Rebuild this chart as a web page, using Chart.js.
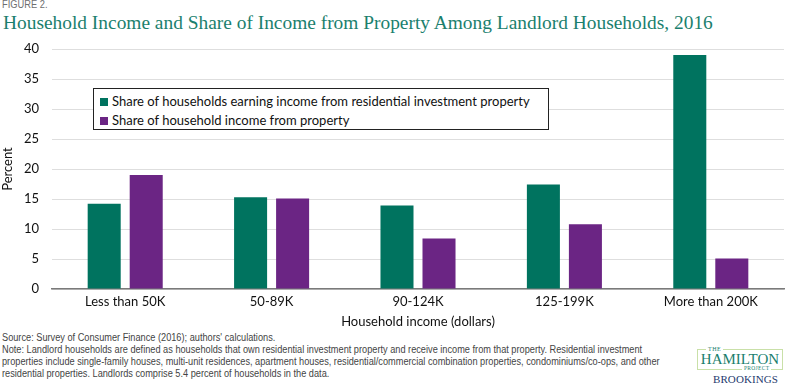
<!DOCTYPE html>
<html>
<head>
<meta charset="utf-8">
<script src="https://cdn.jsdelivr.net/npm/chart.js@4.4.1/dist/chart.umd.min.js"></script>
<style>
  html, body { margin: 0; padding: 0; background: #fff; }
  body { width: 800px; height: 388px; position: relative; overflow: hidden; font-family: Lato, "Liberation Sans", sans-serif; }
  #fig { position: absolute; left: 2px; top: -1px; font-family: "Liberation Sans", sans-serif; font-size: 10px; color: #6d6e70; transform: scaleX(0.93); transform-origin: left top; }
  #title { position: absolute; left: 3px; top: 12px; font-family: "Liberation Serif", serif; font-size: 19.4px; line-height: 22px; color: #1b7f6e; white-space: nowrap; }
  #chartBox { position: absolute; left: 0; top: 0; width: 800px; height: 330px; }
  #legend { position: absolute; left: 93px; top: 88px; width: 454px; height: 40px; border: 1px solid #222; background: #fff; font-size: 13px; color: #111; }
  #legend .item { position: absolute; left: 6px; white-space: nowrap; }
  #legend .sw { display: inline-block; width: 8px; height: 8px; margin-right: 4px; vertical-align: 0px; }
  #notes { position: absolute; left: 2px; top: 332px; font-family: "Liberation Sans", sans-serif; font-size: 10px; line-height: 12px; color: #444; white-space: nowrap; transform: scaleX(0.92); transform-origin: left top; }
  #logo { position: absolute; left: 697px; top: 349px; width: 84px; height: 19px; border: 1px solid #c9e0a8; }
  #logo .the { position: absolute; left: 8px; top: -4px; background: #fff; padding: 0 2px; font-family: "Liberation Serif", serif; font-size: 6px; line-height: 7px; color: #1b7f6e; letter-spacing: 0.5px; }
  #logo .ham { position: absolute; left: 0; width: 84px; top: 2px; text-align: center; font-family: "Liberation Serif", serif; font-size: 15px; line-height: 15px; color: #1b7f6e; }
  #logo .proj { position: absolute; left: 44px; top: 15px; background: #fff; padding: 0 2px; font-family: "Liberation Serif", serif; font-size: 5.5px; line-height: 7px; color: #1b7f6e; letter-spacing: 0.3px; }
  #brook { position: absolute; left: 713px; top: 373px; font-family: "Liberation Serif", serif; font-size: 11px; letter-spacing: 0.1px; color: #1f3a6e; }
</style>
</head>
<body>
<div id="fig">FIGURE 2.</div>
<div id="title">Household Income and Share of Income from Property Among Landlord Households, 2016</div>
<div id="chartBox"><canvas id="incomeChart" width="800" height="330"></canvas></div>
<div id="legend"></div>
<div id="notes">
Source: Survey of Consumer Finance (2016); authors' calculations.<br>
Note: Landlord households are defined as households that own residential investment property and receive income from that property. Residential investment<br>
properties include single-family houses, multi-unit residences, apartment houses, residential/commercial combination properties, condominiums/co-ops, and other<br>
residential properties. Landlords comprise 5.4 percent of households in the data.
</div>
<div id="logo"><span class="the">THE</span><div class="ham">HAMILTON</div><span class="proj">PROJECT</span></div>
<div id="brook">BROOKINGS</div>

<script>
// income brackets on the x axis
const categories = ['Less than 50K', '50-89K', '90-124K', '125-199K', 'More than 200K'];

// percent values
const shareHouseholds = [14.2, 15.3, 13.9, 17.4, 39.0];
const shareIncome = [19.0, 15.1, 8.4, 10.8, 5.1];

const seriesLabels = [
    'Share of households earning income from residential investment property',
    'Share of household income from property'
];
const yTicks = [0, 5, 10, 15, 20, 25, 30, 35, 40];

const green = '#00735f';
const purple = '#6b2584';

document.addEventListener('DOMContentLoaded', function() {
    const ctx = document.getElementById('incomeChart').getContext('2d');

    const data = {
        labels: categories,
        datasets: [{
            label: seriesLabels[0],
            data: shareHouseholds,
            backgroundColor: green,
            categoryPercentage: 0.574,
            barPercentage: 0.786
        }, {
            label: seriesLabels[1],
            data: shareIncome,
            backgroundColor: purple,
            categoryPercentage: 0.574,
            barPercentage: 0.786
        }]
    };

    new Chart(ctx, {
        type: 'bar',
        data: data,
        options: {
            responsive: false,
            animation: false,
            layout: { padding: { top: 49, right: 16, left: 0, bottom: 0 } },
            plugins: {
                legend: { display: false },
                tooltip: { enabled: false }
            },
            scales: {
                x: {
                    grid: { display: false, drawTicks: false },
                    border: { display: true, color: '#7a7a7a', width: 1.5 },
                    ticks: { color: '#111', font: { family: 'Lato', size: 13 }, padding: 5 },
                    title: {
                        display: true,
                        text: 'Household income (dollars)',
                        color: '#111',
                        font: { family: 'Lato', size: 13 },
                        padding: { top: 0, bottom: 0 }
                    },
                    afterFit: function(scale) { scale.height = 41; }
                },
                y: {
                    min: 0,
                    max: 40,
                    afterBuildTicks: function(scale) {
                        scale.ticks = yTicks.map(v => ({ value: v }));
                    },
                    grid: { color: '#dedede', lineWidth: 1, drawTicks: false },
                    border: { display: false },
                    ticks: { color: '#111', font: { family: 'Lato', size: 13 }, padding: 13 },
                    title: {
                        display: true,
                        text: 'Percent',
                        color: '#111',
                        font: { family: 'Lato', size: 13 },
                        padding: 0
                    },
                    afterFit: function(scale) { scale.width = 52; }
                }
            }
        }
    });

    // legend box sits inside the plot, like the original
    const legend = document.getElementById('legend');
    const tops = [4, 23];
    data.datasets.forEach(function(ds, i) {
        const item = document.createElement('div');
        item.className = 'item';
        item.style.top = tops[i] + 'px';
        const sw = document.createElement('span');
        sw.className = 'sw';
        sw.style.background = ds.backgroundColor;
        item.appendChild(sw);
        item.appendChild(document.createTextNode(ds.label));
        legend.appendChild(item);
    });
});
</script>
</body>
</html>
